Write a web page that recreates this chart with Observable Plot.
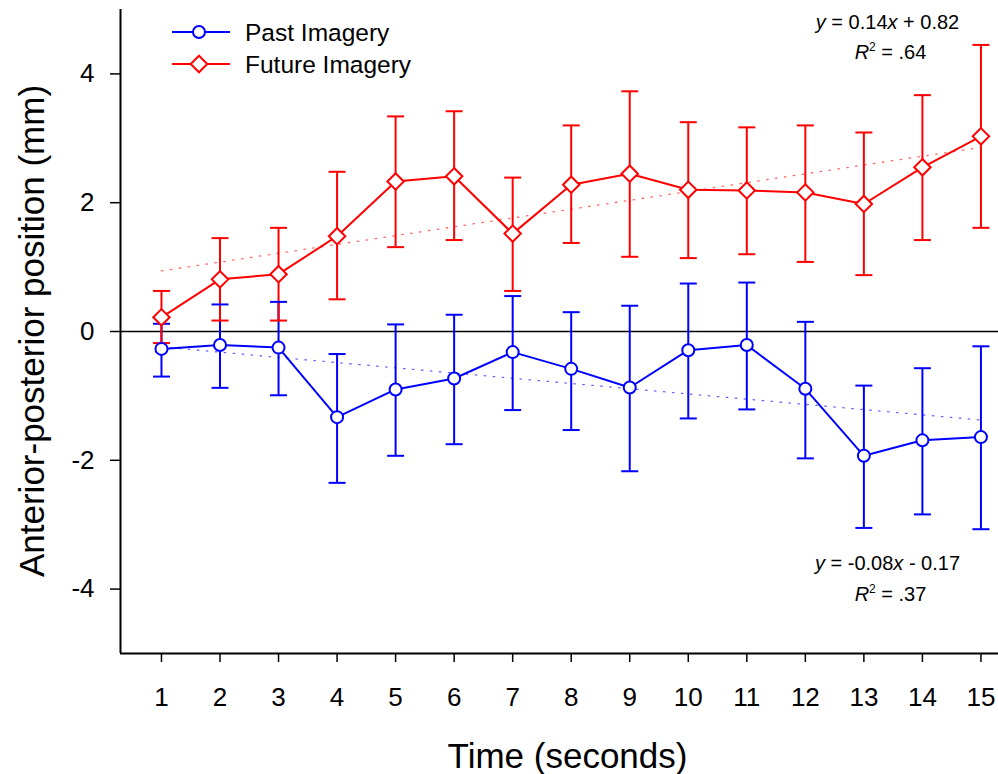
<!DOCTYPE html>
<html>
<head>
<meta charset="utf-8">
<script src="https://cdn.jsdelivr.net/npm/d3@7"></script>
<script src="https://cdn.jsdelivr.net/npm/@observablehq/plot@0.6"></script>
<style>
  html, body { margin: 0; padding: 0; background: #fff; }
  #wrap { position: relative; width: 998px; height: 774px; font-family: "Liberation Sans", Arial, Helvetica, sans-serif; }
  #legend { position: absolute; left: 0; top: 0; pointer-events: none; }
</style>
</head>
<body>
<div id="wrap"></div>
<script>
// ---- data ----
const time = [1, 2, 3, 4, 5, 6, 7, 8, 9, 10, 11, 12, 13, 14, 15];
const seriesNames = ["Past Imagery", "Future Imagery"];
const seriesColors = ["#0000ff", "#ff0000"];
const pastMean = [-0.27, -0.21, -0.25, -1.33, -0.90, -0.73, -0.32, -0.58, -0.87, -0.29, -0.21, -0.89, -1.93, -1.69, -1.64];
const pastHi   = [0.12, 0.42, 0.46, -0.35, 0.11, 0.26, 0.55, 0.30, 0.40, 0.745, 0.76, 0.15, -0.84, -0.57, -0.23];
const pastLo   = [-0.70, -0.875, -0.99, -2.35, -1.93, -1.75, -1.22, -1.53, -2.17, -1.35, -1.21, -1.97, -3.05, -2.84, -3.07];
const futureMean = [0.22, 0.81, 0.89, 1.48, 2.33, 2.41, 1.52, 2.28, 2.45, 2.20, 2.19, 2.16, 1.98, 2.55, 3.03];
const futureHi   = [0.63, 1.45, 1.61, 2.48, 3.34, 3.42, 2.39, 3.20, 3.73, 3.25, 3.17, 3.20, 3.09, 3.67, 4.45];
const futureLo   = [-0.18, 0.17, 0.17, 0.50, 1.31, 1.42, 0.63, 1.375, 1.16, 1.14, 1.20, 1.08, 0.875, 1.42, 1.61];
const xTicks = [1, 2, 3, 4, 5, 6, 7, 8, 9, 10, 11, 12, 13, 14, 15];
const yTicks = [-4, -2, 0, 2, 4];
const xDomain = [0.3, 15.3];
const yDomain = [-5, 5];
const xTitle = "Time (seconds)";
const yTitle = "Anterior-posterior position (mm)";
const eqFuture = ["y = 0.14x + 0.82", "R2 = .64"];
const eqPast = ["y = -0.08x - 0.17", "R2 = .37"];

// ---- table ----
const rows = [];
time.forEach((t, i) => {
  rows.push({series: seriesNames[0], t, m: pastMean[i], lo: pastLo[i], hi: pastHi[i]});
  rows.push({series: seriesNames[1], t, m: futureMean[i], lo: futureLo[i], hi: futureHi[i]});
});

const FONT = '"Liberation Sans", Arial, Helvetica, sans-serif';
const cap = { draw(ctx) { ctx.moveTo(-8.5, 0); ctx.lineTo(8.5, 0); } };

const chart = Plot.plot({
  width: 998,
  height: 774,
  marginLeft: 120,
  marginRight: 0,
  marginTop: 9,
  marginBottom: 121,
  style: { fontFamily: FONT, background: "white", color: "black", overflow: "visible" },
  x: { domain: xDomain, label: null },
  y: { domain: yDomain, label: null },
  color: { type: "ordinal", domain: seriesNames, range: seriesColors },
  marks: [
    Plot.linearRegressionY(rows, { x: "t", y: "m", z: "series", stroke: "series", ci: 0, strokeWidth: 1.3, strokeDasharray: "1.5,7.5", strokeOpacity: 0.6 }),
    Plot.ruleY([0], { stroke: "black", strokeWidth: 1.6 }),
    Plot.ruleX(rows, { x: "t", y1: "lo", y2: "hi", stroke: "series", strokeWidth: 2 }),
    Plot.dot(rows, { x: "t", y: "hi", symbol: cap, stroke: "series", fill: "none", strokeWidth: 2 }),
    Plot.dot(rows, { x: "t", y: "lo", symbol: cap, stroke: "series", fill: "none", strokeWidth: 2 }),
    Plot.line(rows, { x: "t", y: "m", z: "series", stroke: "series", strokeWidth: 2 }),
    Plot.dot(rows, { filter: d => d.series === seriesNames[0], x: "t", y: "m", symbol: "circle", r: 6, stroke: "series", fill: "white", strokeWidth: 2 }),
    Plot.dot(rows, { filter: d => d.series === seriesNames[1], x: "t", y: "m", symbol: "diamond2", r: 7.4, stroke: "series", fill: "white", strokeWidth: 2 }),
    Plot.ruleX([xDomain[0]], { stroke: "black", strokeWidth: 2 }),
    Plot.ruleY([yDomain[0]], { stroke: "black", strokeWidth: 2 }),
    Plot.axisX(xTicks, { tickSize: 9, tickPadding: 25, fontSize: 26, strokeWidth: 1.5, label: null, tickFormat: d => String(d) }),
    Plot.axisY(yTicks, { tickSize: 10, tickPadding: 16, fontSize: 26, strokeWidth: 1.5, label: null, tickFormat: d => String(d) }),
    Plot.text([xTitle], { text: d => d, frameAnchor: "bottom", textAnchor: "middle", dx: 8, dy: 114, lineAnchor: "bottom", fontSize: 35, fill: "black" }),
    Plot.text([eqFuture[0]], { text: d => d, frameAnchor: "top-right", textAnchor: "middle", dx: -111, dy: 19, lineAnchor: "bottom", fontSize: 20, fill: "black", className: "eq" }),
    Plot.text([eqFuture[1]], { text: d => d, frameAnchor: "top-right", textAnchor: "middle", dx: -108, dy: 49, lineAnchor: "bottom", fontSize: 20, fill: "black", className: "eq" }),
    Plot.text([eqPast[0]], { text: d => d, frameAnchor: "bottom-right", textAnchor: "middle", dx: -111, dy: -84, lineAnchor: "bottom", fontSize: 20, fill: "black", className: "eq" }),
    Plot.text([eqPast[1]], { text: d => d, frameAnchor: "bottom-right", textAnchor: "middle", dx: -108, dy: -53, lineAnchor: "bottom", fontSize: 20, fill: "black", className: "eq" })
  ]
});

// rich text for equations: italic variables, superscript 2
d3.select(chart).selectAll(".eq text").each(function() {
  const s = this.textContent;
  const el = d3.select(this);
  el.text(null);
  if (s.startsWith("R2")) {
    el.append("tspan").attr("font-style", "italic").text("R");
    el.append("tspan").attr("font-size", 12).attr("dy", "-8").text("2");
    el.append("tspan").attr("dy", "8").text(s.slice(2));
  } else {
    for (const ch of s.split(/([xy])/)) {
      if (!ch) continue;
      const sp = el.append("tspan").text(ch);
      if (ch === "x" || ch === "y") sp.attr("font-style", "italic");
    }
  }
});

// rotated y-axis title, centred on the plot frame
const yScale = chart.scale("y");
const yMid = (yScale.range[0] + yScale.range[1]) / 2;
d3.select(chart).append("text")
  .attr("transform", `translate(44,${yMid}) rotate(-90)`)
  .attr("text-anchor", "middle")
  .attr("font-size", 35)
  .attr("font-family", FONT)
  .attr("fill", "black")
  .text(yTitle);

const wrap = document.getElementById("wrap");
wrap.appendChild(chart);

// legend overlay
const leg = d3.select(wrap).append("svg").attr("id", "legend").attr("width", 998).attr("height", 774)
  .style("font-family", FONT);
const legendRows = [
  { name: seriesNames[0], color: seriesColors[0], symbol: "circle", y: 32 },
  { name: seriesNames[1], color: seriesColors[1], symbol: "diamond", y: 64 }
];
for (const r of legendRows) {
  const g = leg.append("g").attr("transform", `translate(0,${r.y})`);
  g.append("line").attr("x1", 172).attr("x2", 230).attr("y1", 0).attr("y2", 0).attr("stroke", r.color).attr("stroke-width", 2);
  if (r.symbol === "circle") {
    g.append("circle").attr("cx", 199).attr("cy", 0).attr("r", 6).attr("fill", "white").attr("stroke", r.color).attr("stroke-width", 2);
  } else {
    g.append("path").attr("d", "M199,-8.3L207.3,0L199,8.3L190.7,0Z").attr("fill", "white").attr("stroke", r.color).attr("stroke-width", 2);
  }
  g.append("text").attr("x", 245).attr("y", 8.5).attr("font-size", 24.5).attr("fill", "black").text(r.name);
}
</script>
</body>
</html>
